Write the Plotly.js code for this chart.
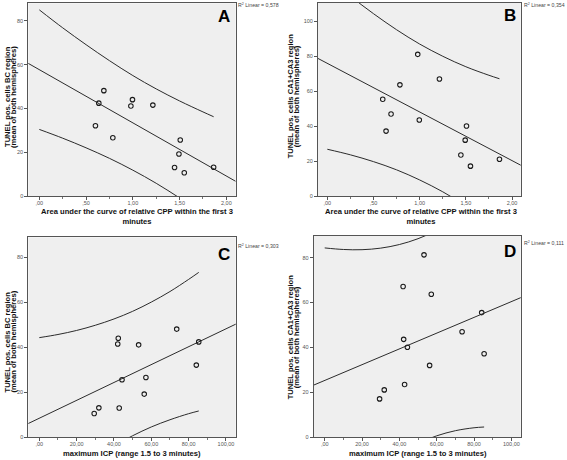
<!DOCTYPE html>
<html>
<head>
<meta charset="utf-8">
<script src="https://cdn.plot.ly/plotly-3.0.1.min.js"></script>
<style>html,body{margin:0;padding:0;background:#fff;}#chart{width:567px;height:460px;}</style>
</head>
<body>
<div id="chart"></div>
<script>
// ---- data ----
var cppAUC = [0.69, 0.636, 0.60, 0.786, 0.996, 0.979, 1.214, 1.507, 1.493, 1.446, 1.55, 1.864];
var maxICP = [73.6, 85.4, 84.1, 57.1, 42.3, 53.2, 42.0, 44.3, 56.2, 42.8, 29.4, 31.9];
var tunelBC = [48.1, 42.4, 32.1, 26.6, 44.0, 41.1, 41.5, 25.6, 19.2, 13.0, 10.6, 13.1];
var tunelCA = [47.0, 37.2, 55.5, 63.7, 43.6, 81.2, 67.1, 40.1, 32.0, 23.5, 17.1, 21.1];

// fit lines (end points) and 95% prediction bands
var fitAx = [-0.12, 2.1];   var fitAy = [60.6, 6.7];
var fitBx = [-0.11, 2.1];   var fitBy = [79.1, 17.5];
var fitCx = [-6, 106];      var fitCy = [6.1, 50.6];
var fitDx = [-6, 106];      var fitDy = [23.2, 62.5];

var bandCPPx = [0, 0.25, 0.5, 0.75, 1.0, 1.25, 1.5, 1.75, 1.864];
var bandAup = [85.0, 76.8, 69.1, 61.8, 55.0, 48.9, 43.4, 38.4, 36.2];
var bandAlo = [30.4, 26.4, 22.0, 17.2, 11.8, 5.8, -0.9, -8.1, -11.7];
var bandBup = [125.3, 114.5, 104.5, 95.3, 87.1, 80.1, 74.1, 69.2, 67.2];
var bandBlo = [26.8, 23.6, 19.7, 15.0, 9.2, 2.4, -5.6, -14.6, -19.3];

var bandICPx = [0, 10, 20, 30, 40, 50, 60, 70, 80, 85.4];
var bandCup = [44.3, 45.7, 47.5, 49.8, 52.6, 56.0, 60.1, 64.8, 70.2, 73.3];
var bandClo = [-27.4, -20.8, -14.7, -9.0, -3.8, 0.7, 4.6, 7.8, 10.5, 11.7];
var bandDup = [84.3, 83.6, 83.5, 84.2, 85.8, 88.4, 92.1, 96.8, 102.5, 105.9];
var bandDlo = [-33.6, -25.9, -18.8, -12.5, -7.1, -2.7, 0.66, 2.94, 4.24, 4.58];

var cppTicks = [0, 0.5, 1.0, 1.5, 2.0];
var cppTickText = [",00", ",50", "1,00", "1,50", "2,00"];
var icpTicks = [0, 20, 40, 60, 80, 100];
var icpTickText = [",00", "20,00", "40,00", "60,00", "80,00", "100,00"];
var yTicksBC = [0, 20, 40, 60, 80];
var yTicksCA = [0, 20, 40, 60, 80, 100];

var panelLetters = ["A", "B", "C", "D"];
var r2Texts = ["0,578", "0,354", "0,303", "0,111"];

var titleCPP1 = "Area under the curve of relative CPP within the first 3";
var titleCPP2 = "minutes";
var titleICP = "maximum ICP (range 1.5 to 3 minutes)";
var titleBC1 = "TUNEL pos. cells BC region";
var titleCA1 = "TUNEL pos. cells CA1+CA3 region";
var titleY2 = "(mean of both hemispheres)";

// ---- drawing ----
var W = 567, H = 460;
var lineCol = '#2b2b2b';
function px(x){ return x / W; }
function py(y){ return 1 - y / H; }

var panels = [
  {xs: cppAUC, ys: tunelBC, fx: fitAx, fy: fitAy, bx: bandCPPx, up: bandAup, lo: bandAlo},
  {xs: cppAUC, ys: tunelCA, fx: fitBx, fy: fitBy, bx: bandCPPx, up: bandBup, lo: bandBlo},
  {xs: maxICP, ys: tunelBC, fx: fitCx, fy: fitCy, bx: bandICPx, up: bandCup, lo: bandClo},
  {xs: maxICP, ys: tunelCA, fx: fitDx, fy: fitDy, bx: bandICPx, up: bandDup, lo: bandDlo}
];

var traces = [];
panels.forEach(function(p, i){
  var xa = 'x' + (i === 0 ? '' : (i + 1));
  var ya = 'y' + (i === 0 ? '' : (i + 1));
  traces.push({x: p.bx, y: p.up, xaxis: xa, yaxis: ya, mode: 'lines', line: {color: lineCol, width: 1, shape: 'spline'}, hoverinfo: 'skip'});
  traces.push({x: p.bx, y: p.lo, xaxis: xa, yaxis: ya, mode: 'lines', line: {color: lineCol, width: 1, shape: 'spline'}, hoverinfo: 'skip'});
  traces.push({x: p.fx, y: p.fy, xaxis: xa, yaxis: ya, mode: 'lines', line: {color: lineCol, width: 1}, hoverinfo: 'skip'});
  traces.push({x: p.xs, y: p.ys, xaxis: xa, yaxis: ya, mode: 'markers',
    marker: {symbol: 'circle-open', size: 4.5, color: '#1a1a1a', line: {width: 1.1, color: '#1a1a1a'}}});
});

var tickFont = {family: 'Liberation Sans, Arial, sans-serif', size: 5.5, color: '#555'};
function xAxis(dom, rng, tv, tt, anchor, minorStep){
  return {domain: dom, range: rng, anchor: anchor, tickmode: 'array', tickvals: tv, ticktext: tt,
    showgrid: false, zeroline: false, showline: true, mirror: true, linecolor: '#555', linewidth: 1,
    ticks: 'outside', ticklen: 3, tickcolor: '#555', tickwidth: 1, tickfont: tickFont,
    ticklabelstandoff: -2,
    minor: {tick0: 0, dtick: minorStep, ticks: 'outside', ticklen: 2, tickcolor: '#777', showgrid: false}};
}
function yAxis(dom, rng, tv, anchor){
  return {domain: dom, range: rng, anchor: anchor, tickmode: 'array', tickvals: tv, ticktext: tv.map(String),
    showgrid: false, zeroline: false, showline: true, mirror: true, linecolor: '#555', linewidth: 1,
    ticks: 'outside', ticklen: 3, tickcolor: '#555', tickwidth: 1, tickfont: tickFont};
}

var ann = [];
var titleFont = {family: 'Liberation Sans, Arial, sans-serif', size: 7.6, color: '#111'};
function addText(t, x, y, opt){
  var a = {text: t, x: px(x), y: py(y), xref: 'paper', yref: 'paper', showarrow: false,
    xanchor: 'center', yanchor: 'middle', borderpad: 0, font: titleFont};
  for (var k in opt) a[k] = opt[k];
  ann.push(a);
}
// x titles (two-line titles as one text)
addText('<b>' + titleCPP1 + '</b><br><b>' + titleCPP2 + '</b>', 137, 216.6);
addText('<b>' + titleCPP1 + '</b><br><b>' + titleCPP2 + '</b>', 420.5, 216.4);
addText('<b>' + titleICP + '</b>', 132, 453.3);
addText('<b>' + titleICP + '</b>', 418, 453.5);
// y titles
addText('<b>' + titleBC1 + '</b>', 7, 97, {textangle: -90});
addText('<b>' + titleY2 + '</b>', 13, 97, {textangle: -90});
addText('<b>' + titleCA1 + '</b>', 290.3, 96, {textangle: -90});
addText('<b>' + titleY2 + '</b>', 296.3, 96, {textangle: -90});
addText('<b>' + titleBC1 + '</b>', 6.5, 342, {textangle: -90});
addText('<b>' + titleY2 + '</b>', 12.5, 342, {textangle: -90});
addText('<b>' + titleCA1 + '</b>', 290.3, 337, {textangle: -90});
addText('<b>' + titleY2 + '</b>', 296.3, 337, {textangle: -90});
// panel letters
var letterPos = [[231, 16], [516.5, 15], [230.5, 254], [516.5, 251.5]];
var r2Pos = [[236.5, 5.5], [523, 5.5], [236.5, 245.5], [523, 242.5]];
panelLetters.forEach(function(L, i){
  addText('<b>' + L + '</b>', letterPos[i][0], letterPos[i][1],
    {xanchor: 'right', font: {family: 'Liberation Sans, Arial, sans-serif', size: 17, color: '#000'}});
  addText('R<sup>2</sup> Linear = ' + r2Texts[i], r2Pos[i][0], r2Pos[i][1],
    {xanchor: 'left', font: {family: 'Liberation Sans, Arial, sans-serif', size: 5.2, color: '#444'}});
});

var layout = {
  width: W, height: H, margin: {l: 0, r: 0, t: 0, b: 0}, showlegend: false,
  paper_bgcolor: '#fff', plot_bgcolor: '#efefef',
  xaxis:  xAxis([px(28.3), px(235.7)], [-0.118, 2.1], cppTicks, cppTickText, 'y', 0.25),
  yaxis:  yAxis([py(196), py(3.3)], [0, 88], yTicksBC, 'x'),
  xaxis2: xAxis([px(318), px(520.7)], [-0.101, 2.094], cppTicks, cppTickText, 'y2', 0.25),
  yaxis2: yAxis([py(196), py(2.7)], [0, 110.8], yTicksCA, 'x2'),
  xaxis3: xAxis([px(28.3), px(235.7)], [-5.9, 105.2], icpTicks, icpTickText, 'y3', 10),
  yaxis3: yAxis([py(437.3), py(237.3)], [0, 88.9], yTicksBC, 'x3'),
  xaxis4: xAxis([px(313.7), px(520.7)], [-5.9, 105], icpTicks, icpTickText, 'y4', 10),
  yaxis4: yAxis([py(437.3), py(236)], [0, 89.6], yTicksBC, 'x4'),
  annotations: ann
};

Plotly.newPlot('chart', traces, layout, {staticPlot: true, displayModeBar: false});
</script>
</body>
</html>
